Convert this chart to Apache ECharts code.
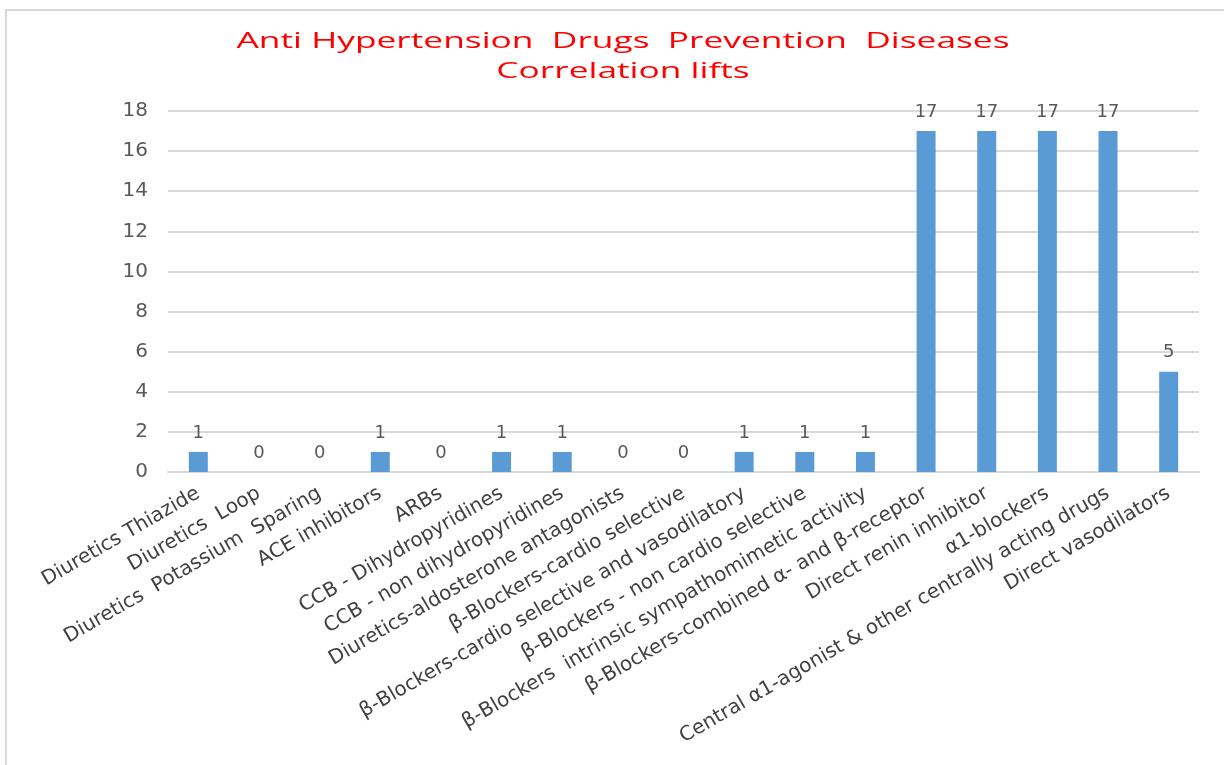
<!DOCTYPE html>
<html>
<head>
<meta charset="utf-8">
<script src="https://cdn.jsdelivr.net/npm/echarts@6/dist/echarts.min.js"></script>
<style>
  html, body { margin: 0; padding: 0; background: #ffffff; }
  #chart { width: 1224px; height: 765px; }
</style>
</head>
<body>
<div id="chart"></div>
<script>
// Drug classes along the x axis
const categories = [
  'Diuretics Thiazide',
  'Diuretics  Loop',
  'Diuretics  Potassium  Sparing',
  'ACE inhibitors',
  'ARBs',
  'CCB - Dihydropyridines',
  'CCB - non dihydropyridines',
  'Diuretics-aldosterone antagonists',
  'β-Blockers-cardio selective',
  'β-Blockers-cardio selective and vasodilatory',
  'β-Blockers - non cardio selective',
  'β-Blockers  intrinsic sympathomimetic activity',
  'β-Blockers-combined α- and β-receptor',
  'Direct renin inhibitor',
  'α1-blockers',
  'Central α1-agonist & other centrally acting drugs',
  'Direct vasodilators'
];

// Correlation lift per drug class
const lifts = [1, 0, 0, 1, 0, 1, 1, 0, 0, 1, 1, 1, 17, 17, 17, 17, 5];

// Value axis ticks
const yTicks = [0, 2, 4, 6, 8, 10, 12, 14, 16, 18];

// Two-line chart heading
const titleLines = ['Anti Hypertension  Drugs  Prevention  Diseases', 'Correlation lifts'];

const labelFont = 'DejaVu Sans';
const titleFont = '22px "Open Sans"';
const titleWidth = 773;   // wide heading across the top

// horizontal stretch so the heading spans its intended width
const measureCtx = document.createElement('canvas').getContext('2d');
measureCtx.font = titleFont;
const titleScale = titleWidth / measureCtx.measureText(titleLines[0]).width;

const chart = echarts.init(document.getElementById('chart'), null, { renderer: 'canvas' });

chart.setOption({
  animation: false,
  backgroundColor: '#ffffff',
  graphic: [
    {
      type: 'rect',
      shape: { x: 6, y: 10, width: 1240, height: 800 },
      style: { fill: 'none', stroke: '#d9d9d9', lineWidth: 2 },
      silent: true
    },
    {
      type: 'text',
      x: 623,
      y: 27,
      scaleX: titleScale,
      silent: true,
      style: {
        text: titleLines.join('\n'),
        fill: '#ff0000',
        font: titleFont,
        align: 'center',
        verticalAlign: 'top',
        lineHeight: 30
      }
    }
  ],
  grid: {
    left: 168,
    right: 25,
    top: 111,
    bottom: 293,
    containLabel: false
  },
  xAxis: {
    type: 'category',
    data: categories,
    axisLine: { show: true, lineStyle: { color: '#d9d9d9', width: 2 } },
    axisTick: { show: false },
    axisLabel: {
      interval: 0,
      rotate: 30,
      margin: 20,
      color: '#404040',
      fontFamily: labelFont,
      fontSize: 20
    }
  },
  yAxis: {
    type: 'value',
    min: yTicks[0],
    max: yTicks[yTicks.length - 1],
    interval: yTicks[1] - yTicks[0],
    axisLine: { show: false },
    axisTick: { show: false },
    splitLine: { lineStyle: { color: '#d9d9d9', width: 2 } },
    axisLabel: {
      color: '#595959',
      fontFamily: labelFont,
      fontSize: 20,
      margin: 20
    }
  },
  series: [{
    type: 'bar',
    data: lifts,
    barWidth: 19,
    itemStyle: { color: '#5b9bd5' },
    label: {
      show: true,
      position: 'top',
      distance: 10,
      color: '#595959',
      fontFamily: labelFont,
      fontSize: 18
    }
  }]
});
</script>
</body>
</html>
